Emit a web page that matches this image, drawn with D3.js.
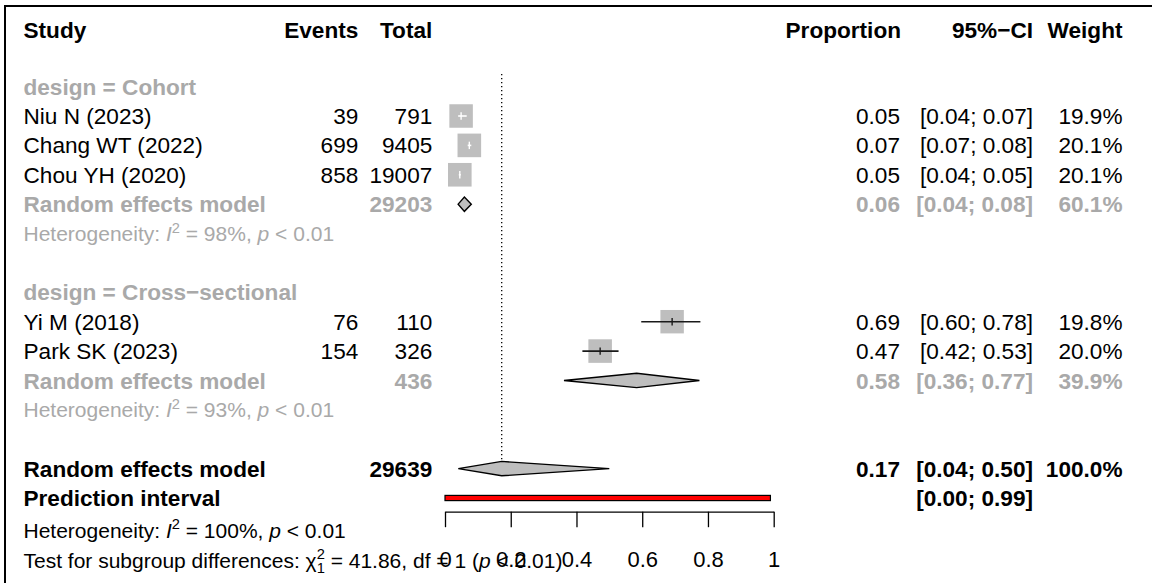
<!DOCTYPE html>
<html><head><meta charset="utf-8">
<script src="https://cdn.jsdelivr.net/npm/d3@7"></script>
<style>
body{margin:0;background:#fff}
svg{display:block}
text{font-family:"Liberation Sans",Arial,Helvetica,sans-serif}
</style>
</head><body>
<svg id="chart" width="1152" height="583"></svg>
<script>
// ---------- data ----------
const studies = ["Niu N (2023)", "Chang WT (2022)", "Chou YH (2020)", "Yi M (2018)", "Park SK (2023)"];
const studyGroup = [0, 0, 0, 1, 1];
const events = [39, 699, 858, 76, 154];
const totals = [791, 9405, 19007, 110, 326];
const props = [0.049, 0.074, 0.045, 0.691, 0.472];
const lower = [0.040, 0.069, 0.042, 0.597, 0.418];
const upper = [0.066, 0.080, 0.048, 0.777, 0.528];
const weights = [19.9, 20.1, 20.1, 19.8, 20.0];
const propLabels = ["0.05", "0.07", "0.05", "0.69", "0.47"];
const ciLabels = ["[0.04; 0.07]", "[0.07; 0.08]", "[0.04; 0.05]", "[0.60; 0.78]", "[0.42; 0.53]"];
const weightLabels = ["19.9%", "20.1%", "20.1%", "19.8%", "20.0%"];

const groupNames = ["Cohort", "Cross\u2212sectional"];
const groupTotals = ["29203", "436"];
const groupEst = [0.059, 0.583];
const groupLower = [0.040, 0.362];
const groupUpper = [0.080, 0.774];
const groupPropLabels = ["0.06", "0.58"];
const groupCiLabels = ["[0.04; 0.08]", "[0.36; 0.77]"];
const groupWeightLabels = ["60.1%", "39.9%"];
const groupI2 = ["98%", "93%"];

const overallTotal = ["29639"];
const overallEst = [0.1725];
const overallLower = [0.0405];
const overallUpper = [0.4998];
const overallLabels = ["0.17", "[0.04; 0.50]", "100.0%"];
const predLower = [0.0];
const predUpper = [0.99];
const predLabel = ["[0.00; 0.99]"];
const overallI2 = ["100%"];
const testStat = ["41.86"];

const tickValues = [0, 0.2, 0.4, 0.6, 0.8, 1];
const tickLabels = ["0", "0.2", "0.4", "0.6", "0.8", "1"];

// ---------- layout ----------
const svg = d3.select("#chart");
const FS = 22.6, FSH = 21;
const GRAY = "#a9a9a9";
const x = d3.scaleLinear().domain([0, 1]).range([445, 773.7]);
const y = d3.scaleLinear().domain([3, 16]).range([116, 498]);
const colStudy = 23.5, colEvents = 358.3, colTotal = 432.3,
      colProp = 900, colCI = 1033, colW = 1122.5;
const base = 8.1;

function txt(xp, yp, s, opt = {}) {
  return svg.append("text")
    .attr("x", xp).attr("y", yp)
    .attr("font-size", opt.size || FS)
    .attr("font-weight", opt.bold ? "bold" : "normal")
    .attr("fill", opt.color || "#000")
    .attr("text-anchor", opt.anchor || "start")
    .text(s);
}

// frame
svg.append("line").attr("x1", 5).attr("x2", 1152).attr("y1", 6).attr("y2", 6)
  .attr("stroke", "#000").attr("stroke-width", 2);
svg.append("line").attr("x1", 5).attr("x2", 5).attr("y1", 5).attr("y2", 583)
  .attr("stroke", "#000").attr("stroke-width", 2);

// header
const hy = 30 + base;
txt(colStudy, hy, "Study", {bold: true});
txt(colEvents, hy, "Events", {bold: true, anchor: "end"});
txt(colTotal, hy, "Total", {bold: true, anchor: "end"});
txt(colProp + 1, hy, "Proportion", {bold: true, anchor: "end"});
txt(colCI, hy, "95%\u2212CI", {bold: true, anchor: "end"});
txt(colW, hy, "Weight", {bold: true, anchor: "end"});

// row assignment
const groupStart = [2, 9];
const studyRow = [];
{
  let cnt = [0, 0];
  studies.forEach((s, i) => { const g = studyGroup[i]; studyRow.push(groupStart[g] + 1 + cnt[g]); cnt[g]++; });
}
const groupRERow = groupStart.map((g, k) => g + 1 + studyGroup.filter(v => v === k).length);

// reference dotted line
svg.append("line").attr("x1", x(overallEst[0])).attr("x2", x(overallEst[0]))
  .attr("y1", 74).attr("y2", y(15) - 7.4)
  .attr("stroke", "#000").attr("stroke-width", 1.3).attr("stroke-dasharray", "1.3,2.7");

function hetText(yc, i2, color) {
  const t = svg.append("text").attr("x", colStudy).attr("y", yc + 7.5)
    .attr("font-size", FSH).attr("fill", color);
  t.append("tspan").text("Heterogeneity: ");
  t.append("tspan").attr("font-style", "italic").text("I");
  t.append("tspan").attr("font-size", FSH * 0.7).attr("dy", -8.5).text("2");
  t.append("tspan").attr("dy", 8.5).text(" = " + i2 + ", ");
  t.append("tspan").attr("font-style", "italic").text("p");
  t.append("tspan").text(" < 0.01");
}

const sqSize = d3.scaleSqrt().domain([0, 20.1]).range([0, 23.6]);

// group headers + studies
groupNames.forEach((g, k) => {
  txt(colStudy, y(groupStart[k]) + base, "design = " + g, {bold: true, color: GRAY});
});

studies.forEach((s, i) => {
  const yc = y(studyRow[i]);
  txt(colStudy, yc + base, s);
  txt(colEvents, yc + base, events[i], {anchor: "end"});
  txt(colTotal, yc + base, totals[i], {anchor: "end"});
  txt(colProp, yc + base, propLabels[i], {anchor: "end"});
  txt(colCI, yc + base, ciLabels[i], {anchor: "end"});
  txt(colW, yc + base, weightLabels[i], {anchor: "end"});
  const w = sqSize(weights[i]);
  const cx = x(props[i]);
  svg.append("rect").attr("x", cx - w / 2).attr("y", yc - w / 2)
    .attr("width", w).attr("height", w).attr("fill", "#bebebe");
  const inside = x(lower[i]) >= cx - w / 2 && x(upper[i]) <= cx + w / 2;
  const lc = inside ? "#fff" : "#1a1a1a";
  svg.append("line").attr("x1", x(lower[i])).attr("x2", x(upper[i]))
    .attr("y1", yc).attr("y2", yc).attr("stroke", lc).attr("stroke-width", 1.6);
  svg.append("line").attr("x1", cx).attr("x2", cx)
    .attr("y1", yc - 3.7).attr("y2", yc + 3.7).attr("stroke", lc).attr("stroke-width", 1.4);
});

function diamond(yc, lo, est, hi) {
  const h = 7.2;
  svg.append("polygon")
    .attr("points", [[x(lo), yc], [x(est), yc - h], [x(hi), yc], [x(est), yc + h]].map(p => p.join(",")).join(" "))
    .attr("fill", "#bebebe").attr("stroke", "#000").attr("stroke-width", 1.4)
    .attr("stroke-linejoin", "miter");
}

groupNames.forEach((g, k) => {
  const yc = y(groupRERow[k]);
  txt(colStudy, yc + base, "Random effects model", {bold: true, color: GRAY});
  txt(colTotal, yc + base, groupTotals[k], {bold: true, color: GRAY, anchor: "end"});
  txt(colProp, yc + base, groupPropLabels[k], {bold: true, color: GRAY, anchor: "end"});
  txt(colCI, yc + base, groupCiLabels[k], {bold: true, color: GRAY, anchor: "end"});
  txt(colW, yc + base, groupWeightLabels[k], {bold: true, color: GRAY, anchor: "end"});
  diamond(yc, groupLower[k], groupEst[k], groupUpper[k]);
  hetText(y(groupRERow[k] + 1), groupI2[k], GRAY);
});

// overall
const yo = y(15);
txt(colStudy, yo + base, "Random effects model", {bold: true});
txt(colTotal, yo + base, overallTotal[0], {bold: true, anchor: "end"});
txt(colProp, yo + base, overallLabels[0], {bold: true, anchor: "end"});
txt(colCI, yo + base, overallLabels[1], {bold: true, anchor: "end"});
txt(colW, yo + base, overallLabels[2], {bold: true, anchor: "end"});
diamond(yo, overallLower[0], overallEst[0], overallUpper[0]);

const yp = y(16);
txt(colStudy, yp + base, "Prediction interval", {bold: true});
txt(colCI, yp + base, predLabel[0], {bold: true, anchor: "end"});
svg.append("rect").attr("x", x(predLower[0])).attr("y", yp - 2.6)
  .attr("width", x(predUpper[0]) - x(predLower[0])).attr("height", 5.2)
  .attr("fill", "#ff0000").attr("stroke", "#000").attr("stroke-width", 1.2);

hetText(530, overallI2[0], "#000");

// test for subgroup differences
{
  const t = svg.append("text").attr("x", colStudy).attr("y", 560 + 7.5)
    .attr("font-size", FSH).attr("fill", "#000");
  t.append("tspan").text("Test for subgroup differences: \u03c7");
  t.append("tspan").attr("font-size", FSH * 0.7).attr("dy", -9).text("2");
  t.append("tspan").attr("font-size", FSH * 0.7).attr("dx", -FSH * 0.7 * 0.556).attr("dy", 14).text("1");
  t.append("tspan").attr("dy", -5).text(" = " + testStat[0] + ", df = 1 (");
  t.append("tspan").attr("font-style", "italic").text("p");
  t.append("tspan").text(" < 0.01)");
}

// axis
const axis = d3.axisBottom(x).tickValues(tickValues)
  .tickFormat((d, i) => tickLabels[i]).tickSize(15.5).tickSizeOuter(0).tickPadding(24);
const ga = svg.append("g").attr("transform", "translate(0,511.7)").call(axis);
ga.attr("font-family", null).attr("font-size", null);
ga.select(".domain").attr("stroke-width", 1.3);
ga.selectAll(".tick line").attr("stroke-width", 1.3);
ga.selectAll(".tick text").attr("font-size", 22).attr("fill", "#000");
</script>
</body></html>
